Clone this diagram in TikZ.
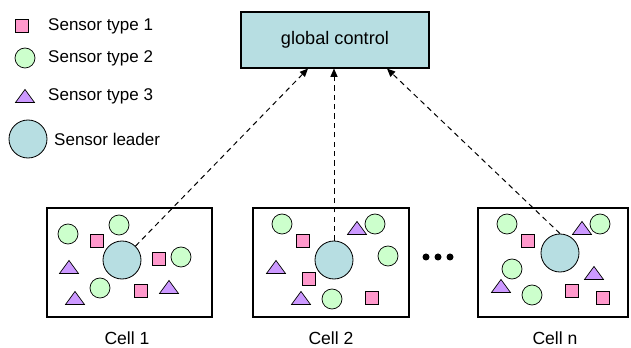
\documentclass[tikz,border=0pt]{standalone}
\usepackage{fontspec}
\setmainfont{Liberation Sans}
\usepackage{tikz}
\usetikzlibrary{arrows.meta, positioning}

\definecolor{sqpink}{RGB}{255,153,204}
\definecolor{cgreen}{RGB}{204,255,204}
\definecolor{tpurple}{RGB}{204,153,255}
\definecolor{leadblue}{RGB}{183,222,226}

\tikzset{
	sensorsq/.style={draw, fill=sqpink, line width=0.6pt, inner sep=0pt, minimum size=0.39cm},
	sensorci/.style={draw, circle, fill=cgreen, line width=0.6pt, inner sep=0pt, minimum size=0.6cm},
	leader/.style={draw, circle, fill=leadblue, line width=0.7pt, inner sep=0pt, minimum size=1.14cm},
	sensortri/.pic={\draw[fill=tpurple, line width=0.6pt] (-9.5,6.5) -- (9.5,6.5) -- (0,-6.5) -- cycle;},
	cell/.style={draw, line width=1pt, minimum height=3.27cm, inner sep=0pt},
	legtxt/.style={font=\fontsize{14.5}{17}\selectfont, inner sep=0pt, anchor=west},
	celltxt/.style={font=\fontsize{15}{18}\selectfont, inner sep=0pt},
	link/.style={dash pattern=on 4.5pt off 3.5pt, line width=0.85pt, -{Triangle[length=7pt, width=6pt]}},
}

\begin{document}
\begin{tikzpicture}[x=0.03cm, y=-0.03cm]
	\useasboundingbox (0, 0) rectangle (631, 348);
	% Legend:
	\node[sensorsq](N10) at (22, 26){};
	\node[legtxt](N11) at (48, 26){Sensor type 1};
	\node[sensorci](N12) at (25, 58){};
	\node[legtxt](N13) at (48, 58){Sensor type 2};
	\pic at (25, 96){sensortri};
	\node[legtxt](N14) at (48, 96){Sensor type 3};
	\node[leader](N15) at (28, 139){};
	\node[legtxt](N16) at (54, 139){Sensor leader};
	% Control box and cells:
	\node[draw, fill=leadblue, line width=1pt, minimum width=5.64cm, minimum height=1.68cm, font=\fontsize{15.5}{18}\selectfont](N1) at (335, 40){global control};
	\node[cell, minimum width=4.95cm](N2) at (129.5, 262.5){};
	\node[cell, minimum width=4.68cm](N3) at (331, 262.5){};
	\node[cell, minimum width=4.5cm](N4) at (553, 262.5){};
	\node[celltxt](N17) at (127, 338){Cell 1};
	\node[celltxt](N18) at (331, 338){Cell 2};
	\node[celltxt](N19) at (555, 338){Cell n};
	\node[circle, fill, inner sep=0pt, minimum size=0.21cm](N20) at (426, 257){};
	\node[circle, fill, inner sep=0pt, minimum size=0.21cm](N21) at (438, 257){};
	\node[circle, fill, inner sep=0pt, minimum size=0.21cm](N22) at (450, 257){};
	% Cell 1:
	\node[leader](N5) at (122, 260){};
	\node[sensorci](N23) at (119, 225){};
	\node[sensorci](N24) at (68, 234){};
	\node[sensorci](N25) at (181, 257){};
	\node[sensorci](N26) at (100, 288){};
	\node[sensorsq](N27) at (97, 241){};
	\node[sensorsq](N28) at (159, 259){};
	\node[sensorsq](N29) at (141, 291){};
	\pic at (69, 267){sensortri};
	\pic at (75, 298){sensortri};
	\pic at (169, 287){sensortri};
	% Cell 2:
	\node[leader](N6) at (334, 260){};
	\node[sensorci](N30) at (282, 224){};
	\node[sensorci](N31) at (375, 224){};
	\node[sensorci](N32) at (388, 256){};
	\node[sensorci](N33) at (332, 299){};
	\node[sensorsq](N34) at (303, 241){};
	\node[sensorsq](N35) at (309, 279){};
	\node[sensorsq](N36) at (372, 298){};
	\pic at (357, 228){sensortri};
	\pic at (276, 267){sensortri};
	\pic at (301, 298){sensortri};
	% Cell n:
	\node[leader](N7) at (560, 253){};
	\node[sensorci](N37) at (507, 224){};
	\node[sensorci](N38) at (600, 224){};
	\node[sensorci](N39) at (512, 269){};
	\node[sensorci](N40) at (532, 295){};
	\node[sensorsq](N41) at (528, 241){};
	\node[sensorsq](N42) at (572, 291){};
	\node[sensorsq](N43) at (603, 298){};
	\pic at (582, 228){sensortri};
	\pic at (594, 273){sensortri};
	\pic at (501, 286){sensortri};
	% Links to the control box:
	\coordinate (N8) at ([xshift=-0.81cm]N1.south);
	\coordinate (N9) at ([xshift=1.56cm]N1.south);
	\draw[link] (N5) -- (N8);
	\draw[link] (N6.north) -- (N6.north |- N1.south);
	\draw[link] (N7.north) -- (N9);
\end{tikzpicture}
\end{document}
